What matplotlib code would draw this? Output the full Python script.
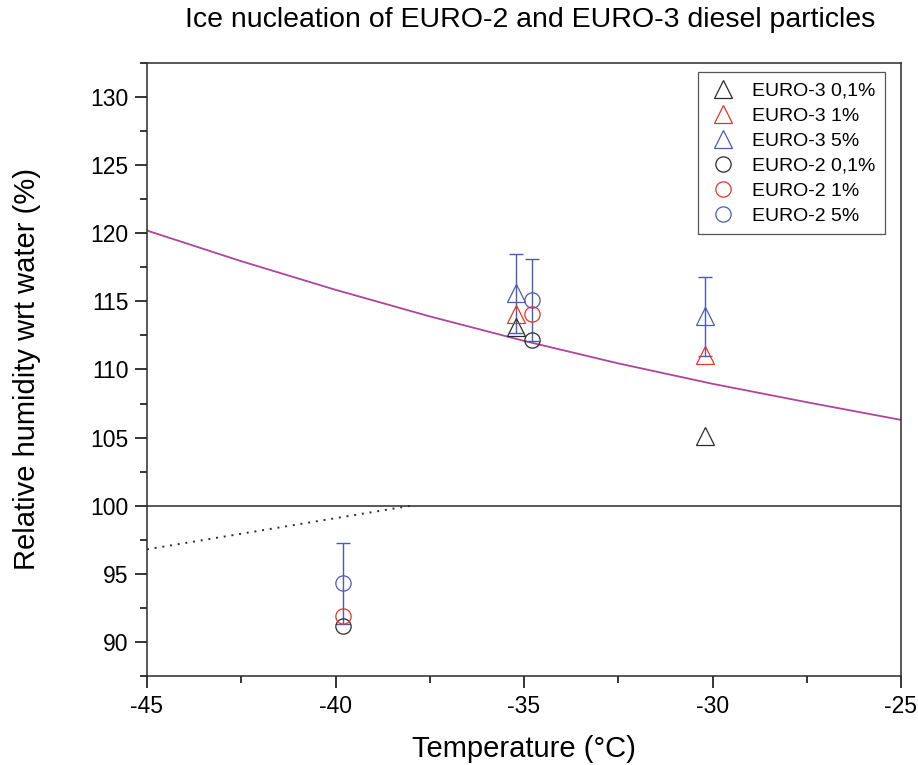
import matplotlib
matplotlib.use("Agg")
import matplotlib.pyplot as plt
from matplotlib.lines import Line2D
from matplotlib.ticker import MultipleLocator

plt.rcParams['font.family'] = ['Liberation Sans', 'DejaVu Sans']
plt.rcParams['axes.unicode_minus'] = False

# Data
e3_temp = [-35.2, -30.2]
e3_01 = [113.1, 105.1]
e3_1 = [114.1, 111.1]
e3_5 = [115.6, 113.9]
e3_5_err = [2.9, 2.9]

e2_temp = [-39.8, -34.8]
e2_01 = [91.2, 112.2]
e2_1 = [91.9, 114.1]
e2_5 = [94.3, 115.1]
e2_5_err = [3.0, 3.0]

curve_t = [-45, -42.5, -40, -37.5, -35, -32.5, -30, -27.5, -25]
curve_rh = [120.2, 117.95, 115.85, 113.9, 112.1, 110.45, 108.95, 107.6, 106.3]

dot_t = [-45, -38]
dot_rh = [96.8, 100.0]

BLACK = '#2b2b2b'
RED = '#ee3124'
BLUE = '#4a5bb0'
PURPLE = '#b0449a'

fig = plt.figure(figsize=(9.18, 7.65), dpi=100)
ax = fig.add_axes([147/918, 1-676/765, (901-147)/918, (676-63)/765])

ax.axhline(100, color=BLACK, lw=1.1, zorder=1)
ax.plot(curve_t, curve_rh, color=PURPLE, lw=1.3, zorder=1)
ax.plot(dot_t, dot_rh, color=BLACK, lw=1.4, linestyle=(0, (1, 3)), zorder=1)

ms_t = 12.5
ms_c = 11
mew = 0.9
ax.errorbar(e3_temp, e3_5, yerr=e3_5_err, fmt='none', ecolor=BLUE, elinewidth=1.0,
            capsize=4.7, capthick=1.0, zorder=2)
ax.errorbar(e2_temp, e2_5, yerr=e2_5_err, fmt='none', ecolor=BLUE, elinewidth=1.0,
            capsize=4.7, capthick=1.0, zorder=2)

ax.plot(e3_temp, e3_01, '^', ms=ms_t, mfc='none', mec=BLACK, mew=mew, zorder=3)
ax.plot(e3_temp, e3_1, '^', ms=ms_t, mfc='none', mec=RED, mew=mew, zorder=3)
ax.plot(e3_temp, e3_5, '^', ms=ms_t, mfc='none', mec=BLUE, mew=mew, zorder=3)
ax.plot(e2_temp, e2_01, 'o', ms=ms_c, mfc='none', mec=BLACK, mew=mew, zorder=3)
ax.plot(e2_temp, e2_1, 'o', ms=ms_c, mfc='none', mec=RED, mew=mew, zorder=3)
ax.plot(e2_temp, e2_5, 'o', ms=ms_c, mfc='none', mec=BLUE, mew=mew, zorder=3)

ax.set_xlim(-45, -25)
ax.set_ylim(87.5, 132.5)
ax.xaxis.set_major_locator(MultipleLocator(5))
ax.xaxis.set_minor_locator(MultipleLocator(2.5))
ax.yaxis.set_minor_locator(MultipleLocator(2.5))
ax.set_yticks([90, 95, 100, 105, 110, 115, 120, 125, 130])
ax.tick_params(which='major', direction='out', length=8.5, width=1.1, labelsize=16.5, pad=5)
ax.tick_params(axis='x', which='major', pad=5.5)
ax.tick_params(which='minor', direction='out', length=5, width=1.1)
ax.tick_params(top=False, right=False)
for s in ax.spines.values():
    s.set_linewidth(1.1)
    s.set_color(BLACK)

ax.set_xlabel('Temperature (°C)', fontsize=21, labelpad=12)
ax.set_ylabel('Relative humidity wrt water (%)', fontsize=21, labelpad=35)
fig.text(530/918, 1-20/765, 'Ice nucleation of EURO-2 and EURO-3 diesel particles',
         ha='center', va='center', fontsize=20.5)

handles = [
    Line2D([], [], ls='none', marker='^', ms=ms_t, mfc='none', mec=BLACK, mew=mew),
    Line2D([], [], ls='none', marker='^', ms=ms_t, mfc='none', mec=RED, mew=mew),
    Line2D([], [], ls='none', marker='^', ms=ms_t, mfc='none', mec=BLUE, mew=mew),
    Line2D([], [], ls='none', marker='o', ms=ms_c, mfc='none', mec=BLACK, mew=mew),
    Line2D([], [], ls='none', marker='o', ms=ms_c, mfc='none', mec=RED, mew=mew),
    Line2D([], [], ls='none', marker='o', ms=ms_c, mfc='none', mec=BLUE, mew=mew),
]
labels = ['EURO-3 0,1%', 'EURO-3 1%', 'EURO-3 5%', 'EURO-2 0,1%', 'EURO-2 1%', 'EURO-2 5%']
leg = ax.legend(handles, labels, loc='upper right', bbox_to_anchor=(0.979, 0.985),
                borderaxespad=0, fontsize=14, frameon=True, fancybox=False,
                labelspacing=0.38, handletextpad=0.7, handlelength=1.6, borderpad=0.5)
leg.get_frame().set_edgecolor(BLACK)
leg.get_frame().set_linewidth(0.9)

fig.savefig('out.png', dpi=100)
